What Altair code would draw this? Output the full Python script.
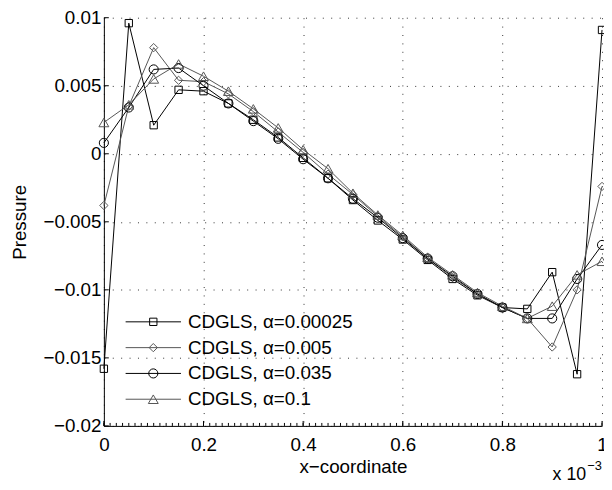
import altair as alt
import pandas as pd

# ---------------- data ----------------
x_coord = [0.0, 0.05, 0.1, 0.15, 0.2, 0.25, 0.3, 0.35, 0.4, 0.45, 0.5,
           0.55, 0.6, 0.65, 0.7, 0.75, 0.8, 0.85, 0.9, 0.95, 1.0]

p_a00025 = [-0.0158, 0.0096, 0.0021, 0.0047, 0.0046, 0.0037, 0.0025, 0.0012,
            -0.0003, -0.0018, -0.0034, -0.0049, -0.0063, -0.0078, -0.0092,
            -0.0104, -0.0113, -0.0114, -0.0087, -0.0162, 0.0091]
p_a005 = [-0.0038, 0.0035, 0.0078, 0.0054, 0.0053, 0.0044, 0.0031, 0.0016,
          0.0001, -0.0015, -0.0030, -0.0046, -0.0061, -0.0077, -0.0091,
          -0.0103, -0.0113, -0.0121, -0.0142, -0.0100, -0.0024]
p_a035 = [0.0008, 0.0034, 0.0062, 0.0063, 0.0050, 0.0037, 0.0024, 0.0011,
          -0.0004, -0.0018, -0.0033, -0.0047, -0.0062, -0.0077, -0.0090,
          -0.0103, -0.0113, -0.0121, -0.0121, -0.0092, -0.0067]
p_a1 = [0.0023, 0.0036, 0.0055, 0.0066, 0.0057, 0.0046, 0.0033, 0.0019,
        0.0003, -0.0011, -0.0029, -0.0045, -0.0060, -0.0076, -0.0089,
        -0.0102, -0.0112, -0.0121, -0.0112, -0.0089, -0.0079]

series = ["CDGLS, α=0.00025", "CDGLS, α=0.005", "CDGLS, α=0.035", "CDGLS, α=0.1"]
line_colors = ["#000000", "#555555", "#000000", "#555555"]
marker_shapes = ["square", "diamond", "circle", "triangle-up"]
marker_sizes = [55, 100, 90, 95]

x_ticks = [0, 0.2, 0.4, 0.6, 0.8, 1.0]
y_ticks = [-0.02, -0.015, -0.01, -0.005, 0, 0.005, 0.01]
x_minor = [i * 0.0125 for i in range(81)]

rows = []
for name, vals in zip(series, [p_a00025, p_a005, p_a035, p_a1]):
    for xv, yv in zip(x_coord, vals):
        rows.append({"x": xv, "p": yv, "series": name})
df = pd.DataFrame(rows)

df_leg = pd.DataFrame({"row": [0, 1, 2, 3], "series": series})
df_xmaj = pd.DataFrame({"x": x_ticks})
df_xmin = pd.DataFrame({"x": x_minor})
df_ymaj = pd.DataFrame({"p": y_ticks})

# ---------------- layout ----------------
W, H = 504, 413
FONT = "Liberation Sans"
FS = 19

xscale = alt.Scale(domain=[0, 1], nice=False, zero=False)
yscale = alt.Scale(domain=[-0.02, 0.01], nice=False, zero=False)
cscale = alt.Scale(domain=series, range=line_colors)
sscale = alt.Scale(domain=series, range=marker_shapes)
zscale = alt.Scale(domain=series, range=marker_sizes)
legy = alt.Scale(domain=[0, 3], range=[307.7, 386])

x_axis = alt.Axis(values=x_ticks, format="~g", grid=True, gridDash=[1, 7.5],
                  gridColor="#333", gridWidth=1, ticks=False, domainColor="#000",
                  labelFlush=False, labelOverlap=False, labelPadding=10,
                  labelFontSize=FS, titleFontSize=FS, titlePadding=3,
                  title="x−coordinate")
y_axis = alt.Axis(values=y_ticks, format="~g", grid=True, gridDash=[1, 7.5],
                  gridColor="#333", gridWidth=1, ticks=False, domainColor="#000",
                  labelFlush=False, labelOverlap=False, labelPadding=3,
                  labelFontSize=FS, titleFontSize=FS, titlePadding=14,
                  title="Pressure")

X = alt.X("x:Q", scale=xscale, axis=x_axis)

base = alt.Chart(df)
lines = base.mark_line(strokeWidth=1).encode(
    x=X,
    y=alt.Y("p:Q", scale=yscale, axis=y_axis),
    color=alt.Color("series:N", scale=cscale, legend=None),
)
points = base.mark_point(filled=False, strokeWidth=1, opacity=1).encode(
    x=X,
    y=alt.Y("p:Q", scale=yscale, axis=None),
    color=alt.Color("series:N", scale=cscale, legend=None),
    shape=alt.Shape("series:N", scale=sscale, legend=None),
    size=alt.Size("series:N", scale=zscale, legend=None),
)

xmin_ticks = alt.Chart(df_xmin).mark_rule(color="#000", strokeWidth=1).encode(
    x=X, y=alt.value(H), y2=alt.value(H - 3),
)
xmaj_ticks = alt.Chart(df_xmaj).mark_rule(color="#000", strokeWidth=1).encode(
    x=X, y=alt.value(H), y2=alt.value(H - 5),
)
ymaj_ticks = alt.Chart(df_ymaj).mark_rule(color="#000", strokeWidth=1).encode(
    y=alt.Y("p:Q", scale=yscale, axis=None),
    x=alt.value(0), x2=alt.value(5),
)

leg_base = alt.Chart(df_leg)
leg_rules = leg_base.mark_rule(strokeWidth=1).encode(
    x=alt.value(22), x2=alt.value(78),
    y=alt.Y("row:Q", scale=legy, axis=None),
    color=alt.Color("series:N", scale=cscale, legend=None),
)
leg_pts = leg_base.mark_point(filled=False, strokeWidth=1, opacity=1).encode(
    x=alt.value(50),
    y=alt.Y("row:Q", scale=legy, axis=None),
    color=alt.Color("series:N", scale=cscale, legend=None),
    shape=alt.Shape("series:N", scale=sscale, legend=None),
    size=alt.Size("series:N", scale=zscale, legend=None),
)
leg_text = leg_base.mark_text(align="left", baseline="middle", fontSize=FS,
                              font=FONT, color="#000").encode(
    x=alt.value(85),
    y=alt.Y("row:Q", scale=legy, axis=None),
    text="series:N",
)

df_ann = pd.DataFrame({"t": ["x 10"], "s": ["−3"]})
ann1 = alt.Chart(df_ann).mark_text(align="center", baseline="middle", fontSize=FS - 1,
                                   font=FONT, color="#000").encode(
    x=alt.value(471), y=alt.value(463), text="t:N")
ann2 = alt.Chart(df_ann).mark_text(align="left", baseline="middle", fontSize=13,
                                   font=FONT, color="#000").encode(
    x=alt.value(489), y=alt.value(454), text="s:N")

chart = alt.layer(
    lines, points, xmin_ticks, xmaj_ticks, ymaj_ticks,
    leg_rules, leg_pts, leg_text, ann1, ann2,
).resolve_scale(y="independent").properties(
    width=W, height=H,
    padding={"left": 97, "top": 7, "right": 2, "bottom": 60},
    autosize=alt.AutoSizeParams(type="none"),
).configure_view(stroke=None).configure_axis(
    labelFont=FONT, titleFont=FONT, labelColor="#000", titleColor="#000",
    titleFontWeight="normal",
)

chart.save("out.html", embed_options={"renderer": "svg", "actions": False})
